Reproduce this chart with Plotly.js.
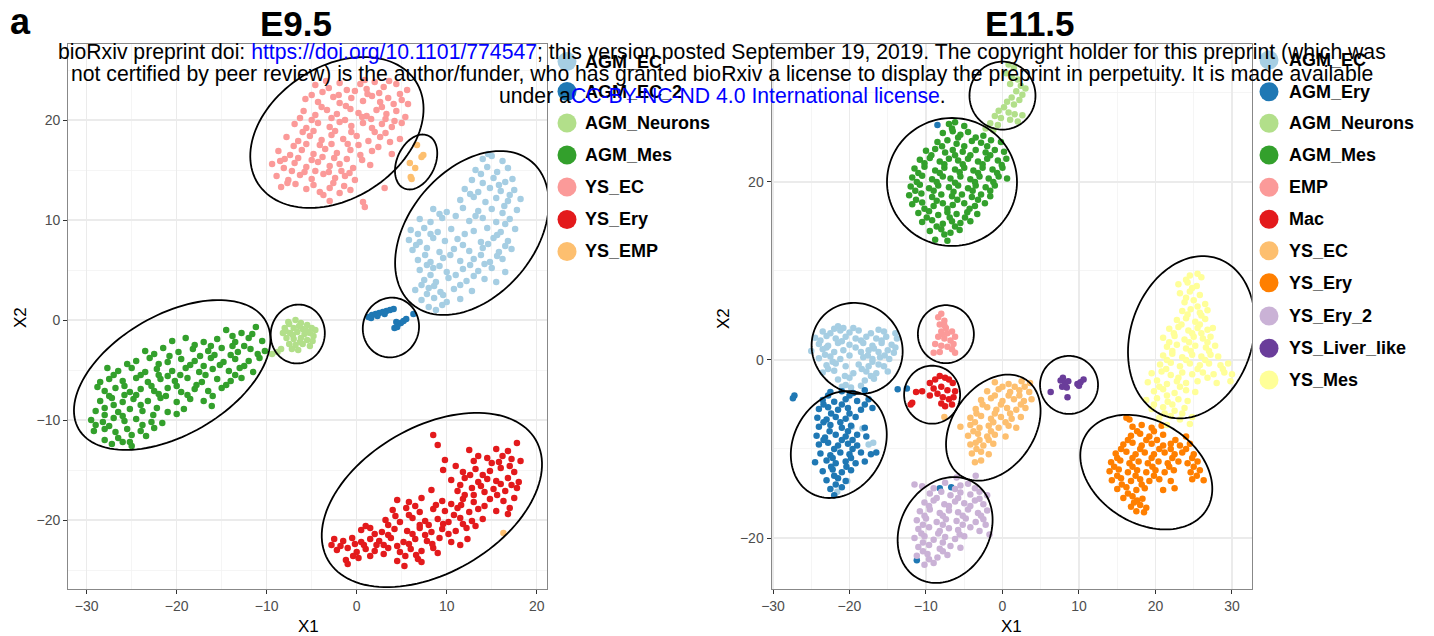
<!DOCTYPE html>
<html><head><meta charset="utf-8">
<script src="https://cdn.plot.ly/plotly-3.0.1.min.js"></script>
<style>html,body{margin:0;padding:0;background:#fff}#chart{width:1434px;height:636px}</style>
</head><body><div id="chart"></div><script>
// ---------------- E9.5 clusters (t-SNE X1, X2) ----------------
const E95_AGM_EC = [[14.0,16.1],[15.0,16.4],[16.2,15.9],[13.2,15.0],[14.5,15.3],[15.6,14.8],[16.8,15.2],[12.8,14.0],[14.0,13.7],[15.2,14.2],[16.5,13.8],[17.3,14.1],[12.0,13.1],[13.5,12.8],[14.8,13.2],[16.0,12.9],[17.5,13.0],[11.5,12.0],[13.0,12.3],[14.3,11.8],[15.5,12.2],[16.8,11.9],[18.2,12.1],[8.5,11.1],[10.0,10.8],[11.8,11.2],[13.5,10.9],[15.0,11.1],[16.2,10.7],[17.8,11.0],[7.0,10.1],[8.2,9.8],[9.5,10.2],[12.5,9.9],[14.0,10.2],[15.5,9.8],[17.0,10.1],[6.0,9.0],[7.5,9.2],[9.0,8.8],[10.5,9.1],[13.0,8.9],[14.5,9.2],[16.0,8.8],[17.6,9.1],[5.8,8.0],[7.0,7.8],[8.5,8.2],[9.8,7.9],[11.2,8.1],[13.8,7.8],[15.2,8.2],[16.8,7.9],[6.2,7.0],[7.8,7.2],[9.2,6.8],[10.8,7.1],[12.5,6.9],[14.0,7.2],[15.8,6.8],[17.2,7.1],[6.8,6.0],[8.2,5.8],[9.6,6.2],[11.5,5.9],[13.0,6.1],[14.8,5.8],[16.2,6.1],[7.0,5.0],[8.5,5.2],[10.0,4.8],[11.8,5.1],[13.5,4.9],[15.0,5.2],[16.5,4.8],[7.5,4.0],[8.8,3.8],[10.2,4.2],[12.2,3.9],[14.2,4.1],[15.5,3.8],[6.5,3.0],[8.0,3.2],[9.3,2.8],[10.8,3.1],[12.8,2.9],[7.2,2.0],[8.6,2.2],[10.0,1.8],[11.5,2.1],[8.0,1.3],[9.5,1.5],
  [14.6,16.6],[13.8,14.6],[15.8,13.5],[12.6,12.6],[17.0,12.5],[16.4,11.4],[9.2,10.6],[11.0,10.4],[13.2,10.4],[16.5,9.6],[6.8,8.6],[8.2,8.6],[12.0,8.6],[15.6,8.5],[6.6,7.5],[11.8,7.5],[14.6,7.6],[16.5,7.4],[7.6,6.5],[10.4,6.5],[13.8,6.5],[15.6,6.4],[7.8,5.5],[9.2,5.4],[12.6,5.5],[14.2,5.6],[8.2,4.5],[11.0,4.5],[13.0,4.4],[7.2,3.5],[8.6,3.4],[11.5,3.5],[7.8,2.6],[9.6,2.5],[8.8,1.0]];
const E95_AGM_EC_2 = [[1.3,0.3],[1.7,0.5],[2.1,0.6],[2.5,0.7],[2.9,0.8],[3.3,0.9],[3.7,1.0],[4.1,1.1],[1.6,0.2],[2.3,0.4],[3.1,0.6],[4.4,-0.2],[4.6,-0.4],[4.9,-0.3],[5.2,-0.1],[5.5,0.1],[4.2,-0.8],[4.5,-0.7],[6.3,0.6]];
const E95_AGM_Neurons = [[-6.8,0.0],[-7.5,-0.4],[-6.2,-0.3],[-5.5,-0.5],[-8.0,-0.8],[-7.0,-0.8],[-6.0,-0.9],[-5.0,-0.8],[-4.6,-1.0],[-8.2,-1.3],[-7.4,-1.3],[-6.6,-1.2],[-5.8,-1.4],[-5.2,-1.3],[-4.8,-1.6],[-7.8,-1.8],[-7.0,-1.9],[-6.2,-1.8],[-5.5,-2.0],[-4.9,-2.1],[-7.5,-2.4],[-6.8,-2.5],[-6.0,-2.4],[-5.2,-2.6],[-8.4,-2.9],[-7.2,-2.9],[-6.5,-3.0],[-8.8,-3.2],[-9.4,-3.4],[-7.6,-0.2],[-6.4,-0.6],[-5.6,-1.1],[-7.1,-1.5],[-6.3,-2.2],[-7.9,-1.1]];
const E95_AGM_Mes = [[-14.5,-1.0],[-12.8,-1.3],[-11.2,-0.7],[-20.5,-2.1],[-19.0,-1.8],[-17.0,-2.2],[-15.5,-1.9],[-13.5,-2.2],[-12.0,-1.8],[-10.5,-2.1],[-23.5,-3.1],[-21.5,-2.8],[-19.8,-3.2],[-18.2,-2.9],[-16.5,-3.1],[-15.0,-2.8],[-13.2,-3.2],[-11.8,-2.9],[-10.2,-3.1],[-24.5,-4.1],[-23.0,-3.8],[-21.0,-4.2],[-19.5,-3.9],[-18.0,-4.1],[-16.2,-3.8],[-14.8,-4.2],[-13.5,-3.9],[-12.0,-4.1],[-10.8,-3.8],[-27.7,-4.8],[-26.5,-5.1],[-25.0,-4.8],[-23.5,-5.2],[-22.2,-4.9],[-20.5,-5.1],[-19.0,-4.8],[-17.5,-5.2],[-16.0,-4.9],[-14.2,-5.1],[-13.0,-4.8],[-11.5,-5.2],[-28.5,-6.2],[-27.5,-5.9],[-26.0,-6.1],[-24.5,-5.8],[-23.2,-6.2],[-21.8,-5.9],[-20.2,-6.1],[-18.8,-5.8],[-17.2,-6.2],[-15.5,-5.9],[-14.0,-6.1],[-12.8,-5.8],[-28.0,-7.1],[-26.8,-6.8],[-25.2,-7.2],[-24.0,-6.9],[-22.5,-7.1],[-21.0,-6.8],[-19.5,-7.2],[-18.0,-6.9],[-16.5,-7.1],[-15.0,-6.8],[-28.5,-8.1],[-27.2,-7.8],[-26.0,-8.2],[-24.8,-7.9],[-23.2,-8.1],[-21.8,-7.8],[-20.0,-8.2],[-18.5,-7.9],[-17.0,-8.1],[-16.1,-8.6],[-29.0,-9.1],[-28.0,-8.8],[-26.5,-9.2],[-25.2,-8.9],[-23.8,-9.1],[-22.2,-8.8],[-21.0,-9.2],[-19.2,-8.9],[-29.5,-10.0],[-28.2,-10.2],[-27.0,-9.8],[-25.8,-10.1],[-24.5,-9.9],[-22.8,-10.2],[-21.6,-10.3],[-29.2,-11.1],[-28.0,-10.9],[-26.8,-11.2],[-25.5,-10.9],[-24.0,-11.1],[-22.5,-10.8],[-28.0,-12.0],[-26.5,-11.8],[-25.2,-12.2],[-25.0,-12.6],[-27.2,-12.4],[-22.0,-5.5],[-18.5,-4.5],[-15.8,-3.5],[-25.8,-7.5],[-21.2,-7.6],[-23.8,-10.5],[-27.0,-8.5],[-13.8,-2.6],
  [-13.8,-1.6],[-11.6,-1.4],[-18.0,-2.5],[-16.2,-2.6],[-12.5,-2.6],[-22.5,-3.4],[-20.8,-3.6],[-17.4,-3.6],[-14.0,-3.5],[-11.0,-3.4],[-25.5,-4.4],[-22.0,-4.4],[-17.0,-4.6],[-15.2,-4.5],[-12.5,-4.6],[-27.0,-5.5],[-24.0,-5.5],[-21.0,-5.6],[-19.6,-5.5],[-16.8,-5.5],[-13.5,-5.5],[-28.8,-6.7],[-25.8,-6.6],[-22.8,-6.6],[-20.0,-6.6],[-17.8,-6.5],[-14.5,-6.5],[-27.5,-7.6],[-24.5,-7.5],[-22.0,-7.4],[-18.8,-7.5],[-16.0,-7.6],[-28.0,-9.5],[-26.0,-9.6],[-24.0,-8.5],[-22.6,-9.5],[-20.0,-9.4],[-29.0,-10.5],[-27.5,-10.6],[-25.0,-11.5],[-23.4,-11.6],[-26.0,-12.2]];
const E95_YS_EC = [[-4.6,23.5],[-3.1,23.2],[-1.9,23.7],[-1.1,23.0],[0.4,23.6],[1.1,23.1],[2.0,23.8],[3.0,23.3],[4.4,23.6],[5.6,23.0],[-5.7,22.1],[-4.3,21.8],[-2.6,22.3],[-1.9,21.7],[-0.6,22.2],[0.7,21.9],[1.7,22.4],[2.6,21.8],[3.5,22.2],[5.0,22.0],[5.7,21.6],[-5.9,20.9],[-4.6,20.5],[-3.3,21.0],[-2.2,20.6],[-0.7,21.1],[0.2,20.7],[1.1,20.4],[2.2,21.0],[3.3,20.6],[4.4,20.9],[5.4,20.3],[-6.9,19.6],[-5.6,19.2],[-4.3,19.7],[-3.0,19.3],[-1.9,19.8],[-0.6,19.4],[0.7,19.7],[1.7,19.2],[2.8,19.6],[3.9,19.3],[5.0,19.7],[-7.8,18.3],[-6.5,17.9],[-5.2,18.4],[-3.9,18.0],[-2.8,18.5],[-1.5,18.1],[0.0,18.4],[1.3,17.9],[2.6,18.3],[3.7,17.8],[4.8,18.1],[-8.7,16.9],[-7.4,16.5],[-6.1,17.0],[-4.8,16.6],[-3.5,17.1],[-2.2,16.7],[-0.7,17.0],[0.4,16.5],[1.7,16.9],[3.9,16.6],[-9.4,15.6],[-8.1,15.2],[-6.9,15.7],[-5.6,15.3],[-4.3,15.8],[-3.0,15.4],[-1.9,15.6],[-0.4,15.2],[1.5,15.5],[-8.9,14.4],[-7.6,14.0],[-6.3,14.5],[-5.0,14.1],[-3.7,14.6],[-2.4,14.2],[-1.3,14.4],[-0.2,14.0],[-8.4,13.3],[-5.6,13.1],[-4.1,12.8],[-3.0,13.2],[-1.9,12.7],[-0.7,13.0],[3.1,13.2],[-3.0,11.9],[0.7,11.8],[0.9,11.3],[-3.7,12.5],[-3.8,22.8],[-0.2,22.9],[2.5,22.7],[4.8,22.6],[-5.0,20.0],[-1.3,20.0],[1.6,20.1],[4.2,19.9],[-6.0,18.8],[-2.4,18.9],[2.0,18.8],[-7.0,17.4],[-4.1,17.5],[-1.0,17.6],[2.4,17.3],[-8.0,16.1],[-5.0,16.0],[-2.5,16.2],[0.6,16.0],[-7.2,14.9],[-4.6,14.9],[-1.7,14.9],[-6.8,13.6],[-2.6,13.7],
  [-3.4,23.9],[0.9,24.0],[3.6,23.9],[-5.0,22.5],[-2.0,22.5],[1.2,22.6],[4.1,21.6],[-3.9,21.3],[-1.2,21.4],[2.8,21.3],[-6.3,20.2],[-2.8,20.2],[0.6,20.3],[3.2,20.1],[-4.8,18.9],[-0.6,18.8],[3.2,18.7],[-5.6,17.6],[-2.8,17.6],[0.2,17.5],[-6.5,16.2],[-3.8,16.3],[-1.1,16.1],[-8.5,15.9],[-5.8,14.8],[-3.1,14.8],[-0.8,14.7],[-7.7,13.7],[-4.8,13.5],[-1.4,13.4]];
const E95_YS_Ery = [[8.5,-11.5],[9.0,-12.5],[17.8,-12.3],[12.5,-13.0],[15.5,-12.9],[16.8,-13.1],[9.8,-14.0],[13.0,-14.1],[14.5,-13.8],[15.8,-14.2],[17.2,-13.9],[18.2,-14.1],[9.6,-15.0],[11.8,-15.2],[13.2,-14.9],[14.8,-15.1],[16.0,-14.8],[17.5,-15.2],[10.5,-16.0],[12.0,-15.8],[13.5,-16.2],[14.5,-15.9],[15.5,-16.1],[16.8,-15.8],[18.0,-16.2],[8.3,-17.0],[11.2,-17.1],[12.8,-16.8],[14.2,-17.2],[15.2,-16.9],[16.5,-17.1],[17.8,-16.8],[4.5,-18.0],[5.8,-18.2],[7.2,-17.8],[9.5,-18.1],[11.8,-17.9],[13.0,-18.2],[14.8,-17.9],[16.3,-18.1],[17.5,-17.8],[4.0,-19.0],[5.5,-18.8],[7.0,-19.2],[8.5,-18.9],[9.8,-19.1],[11.2,-18.8],[12.5,-19.2],[13.5,-18.9],[15.5,-19.1],[17.0,-18.8],[3.2,-20.0],[4.8,-20.2],[6.2,-19.8],[7.6,-20.1],[9.0,-19.9],[10.2,-20.2],[11.5,-19.8],[12.8,-20.1],[14.0,-19.9],[0.5,-21.0],[1.5,-20.8],[2.8,-21.2],[4.2,-20.9],[5.6,-21.1],[7.0,-20.8],[8.3,-21.2],[9.5,-20.9],[11.0,-21.1],[12.2,-20.8],[-2.5,-21.9],[-1.5,-22.1],[-0.5,-21.8],[0.5,-22.2],[1.5,-21.9],[2.5,-22.1],[3.8,-21.8],[5.2,-22.2],[6.5,-21.9],[7.8,-22.1],[9.2,-21.8],[10.5,-22.2],[12.3,-21.9],[-2.2,-23.0],[-1.0,-22.8],[0.0,-23.2],[1.0,-22.9],[2.0,-23.1],[3.5,-22.8],[4.8,-23.2],[6.0,-22.9],[7.2,-23.1],[8.5,-22.8],[-1.2,-24.0],[0.2,-23.8],[4.5,-24.1],[6.8,-23.9],[7.2,-24.2],[5.3,-24.6],[-1.0,-24.4],[3.5,-20.5],[1.0,-20.6],[13.8,-16.6],[16.0,-16.4],[11.6,-18.5],[8.0,-20.5],[10.8,-19.5],[2.2,-22.5],[-0.2,-22.4],[15.0,-14.3],[12.0,-17.5],
  [13.5,-13.6],[16.2,-13.6],[11.0,-14.6],[12.6,-15.5],[14.0,-15.5],[17.0,-14.6],[11.5,-16.5],[13.0,-17.5],[15.6,-17.5],[17.2,-16.5],[6.5,-18.6],[8.8,-18.5],[10.5,-18.4],[14.2,-18.6],[16.8,-19.4],[4.3,-19.6],[5.8,-19.5],[7.0,-20.5],[9.6,-20.4],[11.8,-20.4],[13.2,-20.6],[2.0,-21.4],[3.5,-21.5],[6.2,-21.4],[7.6,-21.5],[10.2,-21.4],[-1.8,-22.6],[0.8,-22.5],[3.0,-22.5],[4.5,-22.6],[5.8,-22.4],[8.4,-22.4],[-0.4,-23.6],[1.5,-23.6],[3.0,-23.4],[5.4,-23.6],[6.6,-23.5],[-2.8,-22.5],[9.0,-23.3],[11.5,-22.5]];
const E95_YS_EMP = [[6.7,17.5],[7.4,16.5],[7.2,16.3],[5.9,15.7],[6.5,15.2],[6.0,14.3],[6.1,14.1],[16.3,-21.3]];

// ---------------- E11.5 clusters ----------------
const E115_AGM_EC = [[-21.5,3.8],[-20.8,3.6],[-23.5,3.2],[-22.5,3.0],[-21.2,3.3],[-20.0,3.1],[-18.8,3.3],[-17.2,3.0],[-15.5,3.2],[-14.0,3.0],[-24.5,2.5],[-23.0,2.7],[-21.8,2.4],[-20.5,2.6],[-19.2,2.4],[-17.8,2.6],[-16.5,2.4],[-15.2,2.6],[-13.8,2.4],[-24.0,1.8],[-22.8,1.6],[-21.5,1.9],[-20.0,1.7],[-18.2,1.9],[-17.0,1.6],[-15.8,1.9],[-14.5,1.7],[-25.0,1.0],[-23.5,1.2],[-22.0,0.9],[-20.8,1.1],[-18.5,0.9],[-17.5,1.1],[-16.2,0.9],[-15.0,1.1],[-14.2,0.8],[-24.0,0.2],[-22.5,0.4],[-21.2,0.1],[-18.2,0.3],[-17.0,0.1],[-16.0,0.3],[-14.8,0.1],[-23.0,-0.6],[-21.8,-0.4],[-20.5,-0.7],[-18.8,-0.5],[-17.5,-0.7],[-16.2,-0.5],[-15.5,-0.7],[-23.5,-1.4],[-22.0,-1.2],[-19.5,-1.5],[-17.8,-1.3],[-16.5,-1.5],[-15.0,-1.3],[-21.5,-2.2],[-20.0,-2.0],[-18.0,-2.3],[-16.8,-2.1],[-21.0,-3.0],[-20.5,-2.8],[-19.8,-3.1],[-18.5,-2.9],[-19.7,-7.5],[-18.3,-7.7],[-17.5,-9.5],[-16.9,-9.3],[-20.3,-13.6],[-21.6,-14.8],
  [-22.0,3.5],[-19.5,3.6],[-16.2,3.4],[-23.8,2.2],[-21.0,2.1],[-18.5,2.2],[-15.8,2.2],[-23.0,1.4],[-19.2,1.4],[-16.8,1.3],[-14.0,1.4],[-23.2,0.6],[-20.0,0.5],[-17.6,0.5],[-15.4,0.5],[-22.2,-0.2],[-17.0,-0.2],[-22.8,-1.0],[-18.4,-1.0],[-20.6,-1.8],[-17.2,-1.8]];
const E115_AGM_Ery = [[-21.0,-3.5],[-19.5,-3.7],[-18.0,-3.4],[-22.5,-3.6],[-23.5,-4.5],[-22.0,-4.7],[-20.5,-4.4],[-19.0,-4.6],[-17.5,-4.4],[-24.0,-5.5],[-22.8,-5.3],[-21.5,-5.6],[-20.2,-5.4],[-18.5,-5.6],[-17.0,-5.4],[-24.2,-6.5],[-23.0,-6.7],[-21.8,-6.4],[-20.5,-6.6],[-19.2,-6.4],[-24.0,-7.5],[-22.5,-7.3],[-21.0,-7.6],[-19.8,-7.4],[-18.0,-7.6],[-24.3,-8.5],[-23.2,-8.7],[-21.8,-8.4],[-20.5,-8.6],[-19.0,-8.4],[-17.8,-8.6],[-24.0,-9.5],[-22.8,-9.3],[-21.5,-9.6],[-20.2,-9.4],[-19.0,-9.6],[-23.8,-10.5],[-22.5,-10.7],[-21.2,-10.4],[-20.0,-10.6],[-18.5,-10.4],[-17.2,-10.6],[-16.5,-10.4],[-24.5,-11.5],[-23.0,-11.3],[-21.8,-11.6],[-20.5,-11.4],[-19.2,-11.6],[-18.0,-11.4],[-23.5,-12.5],[-22.2,-12.3],[-21.0,-12.6],[-19.8,-12.4],[-23.0,-13.5],[-21.5,-13.3],[-20.5,-13.6],[-22.5,-14.5],[-21.0,-14.3],[-22.0,-15.2],[-27.2,-4.0],[-27.4,-4.3],[-13.7,-3.3],[-12.5,-3.2],[-11.2,-22.5],[-8.2,-14.4],[-6.7,-14.3],[-8.5,26.4],
  [-22.8,-4.0],[-20.0,-4.0],[-23.4,-5.0],[-21.0,-5.0],[-18.0,-5.0],[-22.4,-6.0],[-20.0,-6.0],[-23.4,-7.0],[-21.2,-7.0],[-22.6,-8.0],[-20.2,-8.0],[-23.4,-9.0],[-21.0,-9.0],[-19.6,-9.0],[-22.0,-10.0],[-19.6,-10.0],[-22.2,-11.0],[-19.8,-11.0],[-22.4,-12.0],[-20.4,-12.0],[-22.0,-13.0],[-21.8,-14.0]];
const E115_AGM_Neurons = [[0.8,33.2],[1.5,32.8],[0.5,32.2],[1.2,31.8],[2.0,31.5],[1.0,31.0],[2.4,30.8],[1.8,30.2],[2.6,29.8],[1.2,29.5],[0.6,29.0],[2.2,29.2],[1.5,28.7],[0.2,28.4],[-0.5,28.0],[0.8,27.8],[1.6,27.6],[-1.0,27.4],[-0.2,27.2],[1.0,27.0],[-1.6,26.6],[-0.6,26.4],[-2.2,26.0],[-1.2,25.8],[2.0,26.8],[2.6,27.5],[3.0,30.5]];
const E115_AGM_Mes = [[-7.0,26.5],[-6.2,26.7],[-5.0,26.3],[-7.8,25.5],[-6.5,25.7],[-5.5,25.3],[-4.5,25.6],[-2.5,25.2],[-8.5,24.5],[-7.2,24.7],[-6.0,24.3],[-4.0,24.6],[-2.8,24.4],[-1.5,24.7],[-0.2,24.5],[-10.0,23.5],[-8.8,23.7],[-7.5,23.3],[-6.5,23.6],[-5.2,23.4],[-3.5,23.6],[-2.2,23.3],[-1.0,23.6],[0.2,23.4],[-10.8,22.5],[-9.5,22.7],[-8.2,22.3],[-7.0,22.6],[-5.8,22.4],[-4.5,22.6],[-3.2,22.3],[-2.0,22.6],[-0.6,22.4],[0.5,22.6],[-11.5,21.5],[-10.2,21.7],[-8.8,21.3],[-7.6,21.6],[-6.2,21.4],[-5.0,21.6],[-3.8,21.3],[-2.6,21.6],[-1.3,21.4],[0.0,21.6],[-11.8,20.5],[-10.5,20.7],[-9.2,20.3],[-7.8,20.6],[-6.8,20.4],[-5.5,20.6],[-4.2,20.3],[-3.0,20.6],[-1.8,20.4],[-0.5,20.6],[0.6,20.4],[-12.0,19.5],[-10.8,19.7],[-9.6,19.3],[-8.4,19.6],[-7.0,19.4],[-5.8,19.6],[-4.5,19.3],[-3.5,19.6],[-2.2,19.4],[-1.0,19.6],[-12.2,18.5],[-10.6,18.7],[-9.2,18.3],[-8.0,18.6],[-6.6,18.4],[-5.3,18.6],[-4.0,18.3],[-2.8,18.6],[-1.6,18.4],[-11.8,17.5],[-10.5,17.7],[-9.0,17.3],[-7.8,17.6],[-6.5,17.4],[-5.0,17.6],[-3.6,17.3],[-2.3,17.6],[-11.0,16.5],[-9.6,16.7],[-8.4,16.3],[-7.2,16.6],[-6.0,16.4],[-4.6,16.6],[-3.3,16.4],[-10.5,15.5],[-9.2,15.7],[-7.8,15.3],[-6.6,15.6],[-5.5,15.4],[-4.2,15.6],[-9.5,14.5],[-8.0,14.7],[-6.8,14.3],[-5.6,14.6],[-8.8,13.5],[-7.2,13.4],
  [-6.6,26.0],[-5.8,25.0],[-3.5,25.0],[-7.9,24.0],[-5.0,24.0],[-2.0,24.0],[-9.3,23.0],[-6.2,23.0],[-4.2,23.0],[-1.6,23.0],[-10.2,22.1],[-7.6,22.0],[-5.2,22.0],[-2.6,22.0],[-0.1,21.9],[-11.0,21.0],[-8.2,21.0],[-5.6,21.1],[-3.2,21.0],[-0.7,21.0],[-11.2,20.0],[-8.6,20.0],[-6.2,19.9],[-3.6,20.0],[-1.2,20.0],[-11.4,19.0],[-9.0,19.0],[-6.4,18.9],[-3.9,19.0],[-1.6,19.0],[-11.3,18.0],[-8.6,17.9],[-5.9,18.0],[-3.2,18.0],[-10.2,17.0],[-7.2,17.0],[-4.3,17.0],[-9.9,16.0],[-6.9,16.0],[-4.9,16.0],[-8.6,15.0],[-6.2,15.0],[-7.6,14.1]];
const E115_EMP = [[-8.4,4.8],[-8.0,5.2],[-7.6,4.4],[-8.2,4.0],[-7.4,3.6],[-8.0,3.2],[-7.2,3.0],[-6.6,3.2],[-8.4,2.6],[-7.6,2.4],[-6.8,2.2],[-6.2,2.6],[-8.8,1.8],[-8.0,1.6],[-7.2,1.5],[-6.4,1.8],[-9.0,0.8],[-8.2,0.9],[-6.2,0.8],[-6.6,1.2],[-7.6,3.9],[-7.9,2.9]];
const E115_Mac = [[-11.3,-3.6],[-10.5,-3.5],[-11.8,-4.8],[-9.5,-2.6],[-8.8,-2.2],[-8.2,-1.8],[-7.5,-2.0],[-7.0,-2.2],[-6.5,-2.6],[-9.0,-3.2],[-8.0,-3.0],[-7.2,-3.4],[-6.2,-3.5],[-9.5,-4.0],[-8.5,-3.8],[-7.8,-4.2],[-7.0,-4.4],[-6.6,-5.0],[-7.5,-5.2],[-6.4,-4.2],[-8.0,-4.9],[-12.0,-5.0]];
const E115_YS_EC = [[-1.0,-2.5],[0.8,-2.7],[2.5,-2.4],[3.6,-2.6],[-2.0,-3.5],[-0.5,-3.3],[1.0,-3.6],[2.2,-3.4],[3.5,-3.6],[-2.8,-4.5],[-1.5,-4.3],[0.0,-4.6],[1.5,-4.4],[2.8,-4.6],[3.8,-4.4],[-3.5,-5.5],[-2.0,-5.3],[-0.8,-5.6],[0.6,-5.4],[1.8,-5.6],[3.0,-5.4],[-4.2,-6.5],[-2.8,-6.3],[-1.5,-6.6],[-0.2,-6.4],[1.2,-6.6],[2.4,-6.4],[-5.5,-7.5],[-4.2,-7.3],[-3.0,-7.6],[-1.8,-7.4],[-0.5,-7.6],[0.8,-7.4],[1.8,-7.6],[-4.5,-8.5],[-3.2,-8.3],[-2.0,-8.6],[-1.0,-8.4],[0.4,-8.6],[-4.2,-9.5],[-3.5,-9.3],[-2.5,-9.6],[-1.2,-9.4],[-4.0,-10.5],[-2.8,-10.3],[-1.8,-10.6],[-3.6,-11.5],[-2.8,-11.3],[-7.6,-6.4],
  [0.0,-3.0],[1.6,-3.0],[2.9,-3.0],[-1.0,-4.0],[0.8,-4.0],[2.2,-4.0],[-2.6,-5.0],[-0.2,-5.0],[2.4,-5.0],[-3.4,-6.0],[-1.0,-6.0],[1.0,-6.0],[-3.6,-7.0],[-1.2,-7.0],[0.4,-7.0],[-3.8,-8.0],[-1.5,-8.0],[-3.0,-9.0],[-1.8,-9.0],[-3.4,-10.0]];
const E115_YS_Ery = [[16.2,-6.5],[16.6,-6.7],[17.0,-7.5],[18.2,-7.3],[19.5,-7.6],[20.8,-7.4],[16.8,-8.5],[18.0,-8.3],[19.2,-8.6],[21.0,-8.4],[24.0,-8.6],[15.8,-9.5],[17.0,-9.3],[18.2,-9.6],[19.5,-9.4],[21.0,-9.6],[22.0,-9.4],[23.2,-9.6],[24.5,-9.4],[14.8,-10.5],[16.2,-10.3],[17.4,-10.6],[18.6,-10.4],[19.8,-10.6],[21.2,-10.4],[22.5,-10.6],[23.5,-10.4],[25.0,-10.6],[14.2,-11.5],[15.4,-11.3],[16.6,-11.6],[17.8,-11.4],[19.0,-11.6],[20.4,-11.4],[21.6,-11.6],[23.0,-11.4],[24.2,-11.6],[25.5,-11.4],[14.0,-12.5],[15.2,-12.3],[16.4,-12.6],[17.6,-12.4],[18.8,-12.6],[20.0,-12.4],[21.2,-12.6],[22.4,-12.4],[24.6,-12.6],[25.8,-12.4],[14.3,-13.5],[15.5,-13.3],[16.8,-13.6],[18.0,-13.4],[19.2,-13.6],[20.5,-13.4],[22.0,-13.6],[24.8,-13.4],[26.3,-13.5],[15.0,-14.5],[16.2,-14.3],[17.5,-14.6],[18.6,-14.4],[21.0,-14.6],[22.5,-14.4],[15.8,-15.5],[17.0,-15.3],[18.3,-15.6],[16.8,-16.5],[18.0,-16.3],[18.8,-16.6],[17.5,-17.0],[18.5,-17.1],
  [17.6,-8.0],[19.8,-8.0],[16.4,-9.0],[18.8,-9.0],[20.2,-9.0],[22.6,-9.0],[15.5,-10.0],[18.0,-10.0],[20.5,-10.0],[22.0,-10.0],[24.0,-10.0],[15.0,-11.0],[17.0,-11.0],[19.5,-11.0],[22.2,-11.0],[24.8,-11.0],[14.6,-12.0],[17.0,-12.0],[19.6,-12.0],[21.8,-12.0],[25.0,-12.0],[15.0,-13.0],[17.4,-13.0],[19.8,-13.0],[25.4,-13.0],[15.6,-14.0],[18.2,-14.0],[16.4,-15.0],[17.6,-15.8],[17.2,-16.0]];
const E115_YS_Ery_2 = [[-3.5,-13.0],[-6.0,-13.2],[-11.5,-14.0],[-10.5,-14.2],[-7.5,-13.8],[-5.5,-14.1],[-4.5,-13.9],[-9.5,-15.0],[-8.0,-14.8],[-6.8,-15.2],[-5.5,-14.9],[-4.2,-15.1],[-3.0,-14.8],[-2.0,-15.2],[-10.2,-16.0],[-9.0,-15.8],[-7.6,-16.2],[-6.2,-15.9],[-5.0,-16.1],[-3.6,-15.8],[-2.5,-16.2],[-10.8,-17.0],[-9.5,-16.8],[-8.2,-17.2],[-7.0,-16.9],[-5.8,-17.1],[-4.5,-16.8],[-3.2,-17.2],[-2.0,-16.9],[-11.2,-18.0],[-10.0,-17.8],[-8.6,-18.2],[-7.4,-17.9],[-6.0,-18.1],[-4.8,-17.8],[-3.5,-18.2],[-2.5,-17.9],[-11.0,-19.0],[-9.6,-18.8],[-8.2,-19.2],[-7.0,-18.9],[-5.8,-19.1],[-4.2,-18.8],[-3.0,-19.2],[-1.7,-19.6],[-11.5,-20.0],[-10.2,-19.8],[-9.0,-20.2],[-7.5,-19.9],[-6.2,-20.1],[-5.0,-19.8],[-11.0,-21.0],[-9.6,-20.8],[-8.2,-21.2],[-6.8,-20.9],[-5.5,-21.1],[-11.2,-22.0],[-9.8,-21.8],[-8.5,-22.2],[-7.2,-21.9],[-10.2,-23.0],[-9.0,-22.8],
  [-9.0,-14.4],[-6.2,-14.5],[-3.6,-14.4],[-8.6,-15.5],[-5.8,-15.5],[-3.0,-15.6],[-9.6,-16.4],[-7.0,-16.4],[-4.2,-16.4],[-10.2,-17.5],[-7.8,-17.5],[-5.2,-17.5],[-2.8,-17.5],[-10.4,-18.5],[-7.8,-18.5],[-5.2,-18.5],[-2.2,-18.5],[-10.6,-19.5],[-8.4,-19.5],[-5.6,-19.6],[-10.4,-20.5],[-7.8,-20.5],[-10.4,-21.5],[-7.8,-21.5],[-9.6,-22.4]];
const E115_YS_Liver_like = [[6.3,-3.6],[7.6,-2.3],[7.9,-2.0],[8.2,-2.6],[7.8,-3.0],[8.4,-3.1],[8.6,-2.4],[8.5,-4.2],[9.8,-2.7],[10.2,-2.5],[10.6,-2.2],[10.0,-2.9]];
const E115_YS_Mes = [[24.5,9.5],[25.5,9.7],[26.0,9.3],[23.0,8.5],[24.2,8.7],[25.4,8.3],[23.2,7.5],[24.5,7.7],[25.8,7.3],[23.8,6.5],[25.0,6.7],[26.5,6.3],[23.5,5.5],[24.6,5.7],[25.8,5.3],[26.8,5.6],[22.8,4.5],[24.0,4.7],[25.2,4.3],[26.5,4.6],[21.8,3.5],[23.0,3.7],[24.3,3.3],[25.5,3.6],[26.8,3.4],[27.5,3.6],[21.0,2.5],[22.5,2.7],[23.8,2.3],[25.0,2.6],[26.2,2.4],[27.2,2.6],[21.5,1.5],[22.8,1.7],[24.0,1.3],[25.2,1.6],[26.6,1.4],[27.8,1.6],[21.0,0.5],[22.2,0.7],[23.5,0.3],[24.8,0.6],[26.0,0.4],[27.2,0.6],[28.2,0.4],[20.6,-0.5],[22.0,-0.3],[23.2,-0.7],[24.5,-0.4],[25.8,-0.6],[27.0,-0.4],[28.5,-0.6],[29.5,-0.4],[19.5,-1.5],[20.8,-1.3],[22.0,-1.7],[23.5,-1.4],[24.8,-1.6],[26.2,-1.4],[27.6,-1.6],[29.0,-1.4],[30.0,-1.6],[19.0,-2.5],[20.2,-2.3],[21.5,-2.7],[22.8,-2.4],[24.0,-2.6],[25.5,-2.4],[28.0,-2.6],[29.8,-2.4],[19.8,-3.5],[21.0,-3.3],[22.5,-3.7],[24.0,-3.4],[25.2,-3.6],[18.8,-4.5],[20.2,-4.3],[21.6,-4.7],[23.0,-4.4],[24.2,-4.6],[19.5,-5.5],[21.0,-5.3],[22.5,-5.7],[23.8,-5.4],[20.5,-6.5],[22.0,-6.3],[23.2,-6.7],[24.8,-6.4],[21.5,-7.3],[24.5,-7.2],
  [24.0,9.0],[24.8,8.1],[24.0,7.0],[25.5,6.0],[24.2,5.1],[26.0,5.0],[23.4,4.0],[25.8,4.0],[22.4,3.0],[24.8,3.0],[26.0,3.0],[21.8,2.0],[24.4,2.0],[26.8,2.0],[22.2,1.0],[24.6,1.0],[27.0,1.0],[21.5,0.0],[24.0,0.0],[26.5,0.0],[28.8,-1.0],[21.4,-1.0],[25.5,-1.0],[23.0,-2.0],[26.8,-2.0],[20.5,-3.0],[23.2,-3.0],[21.5,-4.0],[19.8,-5.0],[22.2,-5.0],[21.2,-6.0],[23.5,-6.0]];

// legend order and colours
const E95_names = ['AGM_EC','AGM_EC_2','AGM_Neurons','AGM_Mes','YS_EC','YS_Ery','YS_EMP'];
const E95_colors = ['#A6CEE3','#1F78B4','#B2DF8A','#33A02C','#FB9A99','#E31A1C','#FDBF6F'];
const E95_sets = [E95_AGM_EC,E95_AGM_EC_2,E95_AGM_Neurons,E95_AGM_Mes,E95_YS_EC,E95_YS_Ery,E95_YS_EMP];
const E115_names = ['AGM_EC','AGM_Ery','AGM_Neurons','AGM_Mes','EMP','Mac','YS_EC','YS_Ery','YS_Ery_2','YS_Liver_like','YS_Mes'];
const E115_colors = ['#A6CEE3','#1F78B4','#B2DF8A','#33A02C','#FB9A99','#E31A1C','#FDBF6F','#FF7F00','#CAB2D6','#6A3D9A','#FFFF99'];
const E115_sets = [E115_AGM_EC,E115_AGM_Ery,E115_AGM_Neurons,E115_AGM_Mes,E115_EMP,E115_Mac,E115_YS_EC,E115_YS_Ery,E115_YS_Ery_2,E115_YS_Liver_like,E115_YS_Mes];

// ellipse overlays: centre (data), semi-axes (px), angle (deg)
const E95_ellipses = [[12.8,8.7,93,63,50],[3.8,-0.75,30,28,75],[-6.55,-1.4,29.5,27,80],[-20.5,-5.5,108,60,30],[-2.2,18.75,94,66,33],[8.35,-18.0,120,73,30],[6.6,15.8,29,19,65]];
const E115_ellipses = [[-19.0,1.3,47,44,-45],[-21.4,-9.5,56,45,60],[0.0,29.7,34,33,90],[-6.6,20.0,65,64,0],[-7.4,2.9,29,28,90],[-9.2,-3.9,29,28,90],[-1.2,-7.6,58,41,55],[18.8,-12.6,71,51,-32],[-7.5,-19.1,55.5,44.5,60],[8.7,-2.8,29,29,0],[24.7,2.55,83,61,72]];

// ---------------- layout geometry ----------------
const W = 1434, H = 636, FONT = 'Liberation Sans, Arial, Helvetica, sans-serif';
const P1 = {x0:68.3, x1:547, y0:44, y1:589, xr:[-32.04,21.14], yr:[-26.9,27.6], ydt:10};
const P2 = {x0:771.7, x1:1251.7, y0:44, y1:589, xr:[-30.17,32.58], yr:[-25.73,35.5], ydt:20};

function axisCfg(P, isX){
  const dt = isX ? 10 : P.ydt;
  return {
    domain: isX ? [P.x0/W, P.x1/W] : [1-P.y1/H, 1-P.y0/H],
    range: isX ? P.xr : P.yr,
    tick0:0, dtick:dt, showgrid:true, gridcolor:'#EBEBEB', gridwidth:1.3,
    minor:{tick0:0, dtick:dt/2, showgrid:true, gridcolor:'#F3F3F3', gridwidth:0.8, ticks:''},
    zeroline:false, showline:true, mirror:true, linecolor:'#888888', linewidth:1.2,
    ticks:'outside', ticklen:4, tickwidth:1, tickcolor:'#333333',
    tickfont:{family:FONT, size:14, color:'#4D4D4D'},
    automargin:false, fixedrange:true
  };
}

const traces = [];
function addTraces(sets, colors, names, xa, ya){
  sets.forEach((s,i)=>{
    traces.push({type:'scatter', mode:'markers', x:s.map(p=>p[0]), y:s.map(p=>p[1]),
      xaxis:xa, yaxis:ya, name:names[i], showlegend:false, hoverinfo:'skip',
      marker:{color:colors[i], size:6.5, line:{width:0}}});
  });
}
addTraces(E95_sets, E95_colors, E95_names, 'x', 'y');
addTraces(E115_sets, E115_colors, E115_names, 'x2', 'y2');

const shapes = [];
function ellipsePath(e, P){
  const [cx, cy, a, b, ang] = e;
  const kx = (P.x1-P.x0)/(P.xr[1]-P.xr[0]);
  const ky = (P.y1-P.y0)/(P.yr[1]-P.yr[0]);
  const th = ang*Math.PI/180;
  let d = '';
  for(let i=0;i<=120;i++){
    const t = i/120*2*Math.PI;
    const du = a*Math.cos(t)*Math.cos(th) - b*Math.sin(t)*Math.sin(th);
    const dv = a*Math.cos(t)*Math.sin(th) + b*Math.sin(t)*Math.cos(th);
    d += (i===0?'M':'L') + (cx+du/kx).toFixed(4) + ',' + (cy+dv/ky).toFixed(4);
  }
  return d + 'Z';
}
E95_ellipses.forEach(e=>shapes.push({type:'path', xref:'x', yref:'y', path:ellipsePath(e,P1), line:{color:'#000', width:1.8}, layer:'above'}));
E115_ellipses.forEach(e=>shapes.push({type:'path', xref:'x2', yref:'y2', path:ellipsePath(e,P2), line:{color:'#000', width:1.8}, layer:'above'}));

const annotations = [];
function legend(names, colors, cx, tx, ys){
  names.forEach((n,i)=>{
    const r = 9.5, y = ys[i];
    shapes.push({type:'circle', xref:'paper', yref:'paper', x0:(cx-r)/W, x1:(cx+r)/W, y0:1-(y+r)/H, y1:1-(y-r)/H,
      fillcolor:colors[i], line:{width:0}, layer:'above'});
    annotations.push({xref:'paper', yref:'paper', x:tx/W, y:1-y/H, xanchor:'left', yanchor:'middle', showarrow:false,
      text:'<b>'+n+'</b>', font:{family:FONT, size:18, color:'#000'}});
  });
}
legend(E95_names, E95_colors, 567, 583, [61.5,91.5,123,155,187,219.5,251.5]);
legend(E115_names, E115_colors, 1269, 1287, [60,91.7,123.3,155,187.3,219.3,250.7,282.7,316,348.3,380]);

function txt(t, x, y, size, opts){
  annotations.push(Object.assign({xref:'paper', yref:'paper', x:x/W, y:1-y/H, xanchor:'center', yanchor:'middle',
    showarrow:false, text:t, font:{family:FONT, size:size, color:'#000'}}, opts||{}));
}
txt('<b>a</b>', 8, 22, 36, {xanchor:'left'});
txt('<b>E9.5</b>', 296, 23, 35);
txt('<b>E11.5</b>', 1030, 23, 35);
txt('X1', 308, 626, 17);
txt('X1', 1011, 626, 17);
txt('X2', 20, 318, 17, {textangle:-90});
txt('X2', 723, 318, 17, {textangle:-90});
const BLUE = '#0000FF';
txt('bioRxiv preprint doi: <span style="color:'+BLUE+'">https://doi.org/10.1101/774547</span>; this version posted September 19, 2019. The copyright holder for this preprint (which was', 722, 52, 21.2);
txt('not certified by peer review) is the author/funder, who has granted bioRxiv a license to display the preprint in perpetuity. It is made available', 722, 74, 21.2);
txt('under a<span style="color:'+BLUE+'">CC-BY-NC-ND 4.0 International license</span>.', 722, 96, 21.2);

const layout = {
  width:W, height:H, margin:{l:0,r:0,t:0,b:0}, paper_bgcolor:'#fff', plot_bgcolor:'#fff',
  showlegend:false, font:{family:FONT},
  xaxis:Object.assign(axisCfg(P1,true),{anchor:'y'}),
  yaxis:Object.assign(axisCfg(P1,false),{anchor:'x'}),
  xaxis2:Object.assign(axisCfg(P2,true),{anchor:'y2'}),
  yaxis2:Object.assign(axisCfg(P2,false),{anchor:'x2'}),
  shapes:shapes, annotations:annotations
};
Plotly.newPlot('chart', traces, layout, {staticPlot:true, displayModeBar:false});
</script></body></html>
